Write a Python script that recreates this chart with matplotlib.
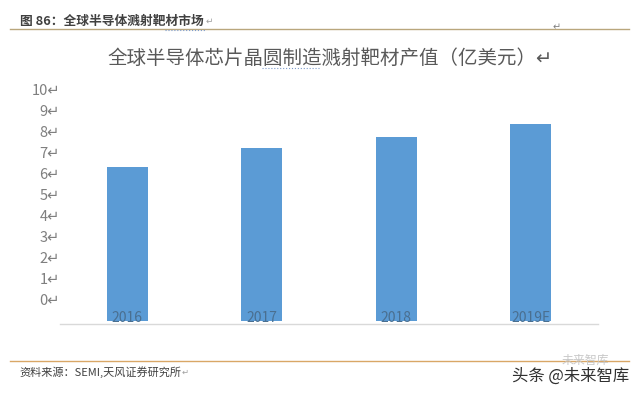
import matplotlib
matplotlib.use("Agg")
import matplotlib.pyplot as plt

plt.rcParams['font.family'] = ['Noto Sans CJK SC', 'DejaVu Sans']

# values read against the printed tick labels
years = ["2016", "2017", "2018", "2019E"]
output_value = [6.3, 7.2, 7.7, 8.35]
y_ticks = [0, 1, 2, 3, 4, 5, 6, 7, 8, 9, 10]

W, H = 640, 394
bar_color = "#5b9bd5"
text_grey = "#7f7f7f"

fig = plt.figure(figsize=(W / 100, H / 100), dpi=100)

# plot area in pixels: x 60-598, y 80-324 from top
ax = fig.add_axes([60 / W, 1 - 324 / H, 538 / W, 244 / H])
ax.set_xlim(-0.5, 3.5)
ax.set_ylim(-1.19, 10.43)

# in the source the bars run below the printed 0 label, down near the axis line
bar_base = -1.05
x = range(len(years))
ax.bar(x, [v - bar_base for v in output_value], bottom=bar_base, width=0.308, color=bar_color)

for s in ["top", "right", "left"]:
    ax.spines[s].set_visible(False)
ax.spines["bottom"].set_color("#d9d9d9")
ax.spines["bottom"].set_linewidth(1)

ax.set_xticks(list(x))
ax.set_xticklabels(years, fontsize=10, color="#4a6f90")
ax.tick_params(axis="x", length=0, pad=-9)
ax.set_yticks(y_ticks)
ax.set_yticklabels([f"{t}\u21b5" for t in y_ticks], fontsize=10.5, color=text_grey)
ax.tick_params(axis="y", length=0, pad=0)


def px_text(px, py, s, **kw):
    fig.text(px / W, 1 - py / H, s, va="center", **kw)


def px_line(x0, x1, py, **kw):
    fig.add_artist(plt.Line2D([x0 / W, x1 / W], [1 - py / H, 1 - py / H], **kw))


# header and footer of the report page (full-width punctuation written as escapes)
px_text(20, 21, "图 86\uff1a全球半导体溅射靶材市场", fontsize=9.2, fontweight="bold", color="#404040")
px_text(206, 21, "\u21b5", fontsize=6.5, color="#a0a0a0")
px_line(10, 629, 29, color="#b9a67c", lw=1)
px_text(553, 27, "\u21b5", fontsize=7, color="#808080")

px_text(107, 58, "全球半导体芯片晶圆制造溅射靶材产值\uff08亿美元\uff09\u21b5", fontsize=14, color="#595959")
px_line(262, 320, 68, color="#7d9ccc", lw=0.8, ls=":")
px_line(165, 205, 30, color="#7d9ccc", lw=0.8, ls=":")

px_line(10, 629, 361, color="#d9a766", lw=1)
px_text(19, 372, "资料来源\uff1aSEMI,天风证券研究所", fontsize=8, color="#404040")
px_text(182, 372, "\u21b5", fontsize=6, color="#a0a0a0")

# watermarks
px_text(562, 360, "未来智库", fontsize=8.6, color="#c8c8c8")
px_text(512, 376, "头条 @未来智库", fontsize=11.8, color="#303030")

fig.savefig("out.png", dpi=100)
